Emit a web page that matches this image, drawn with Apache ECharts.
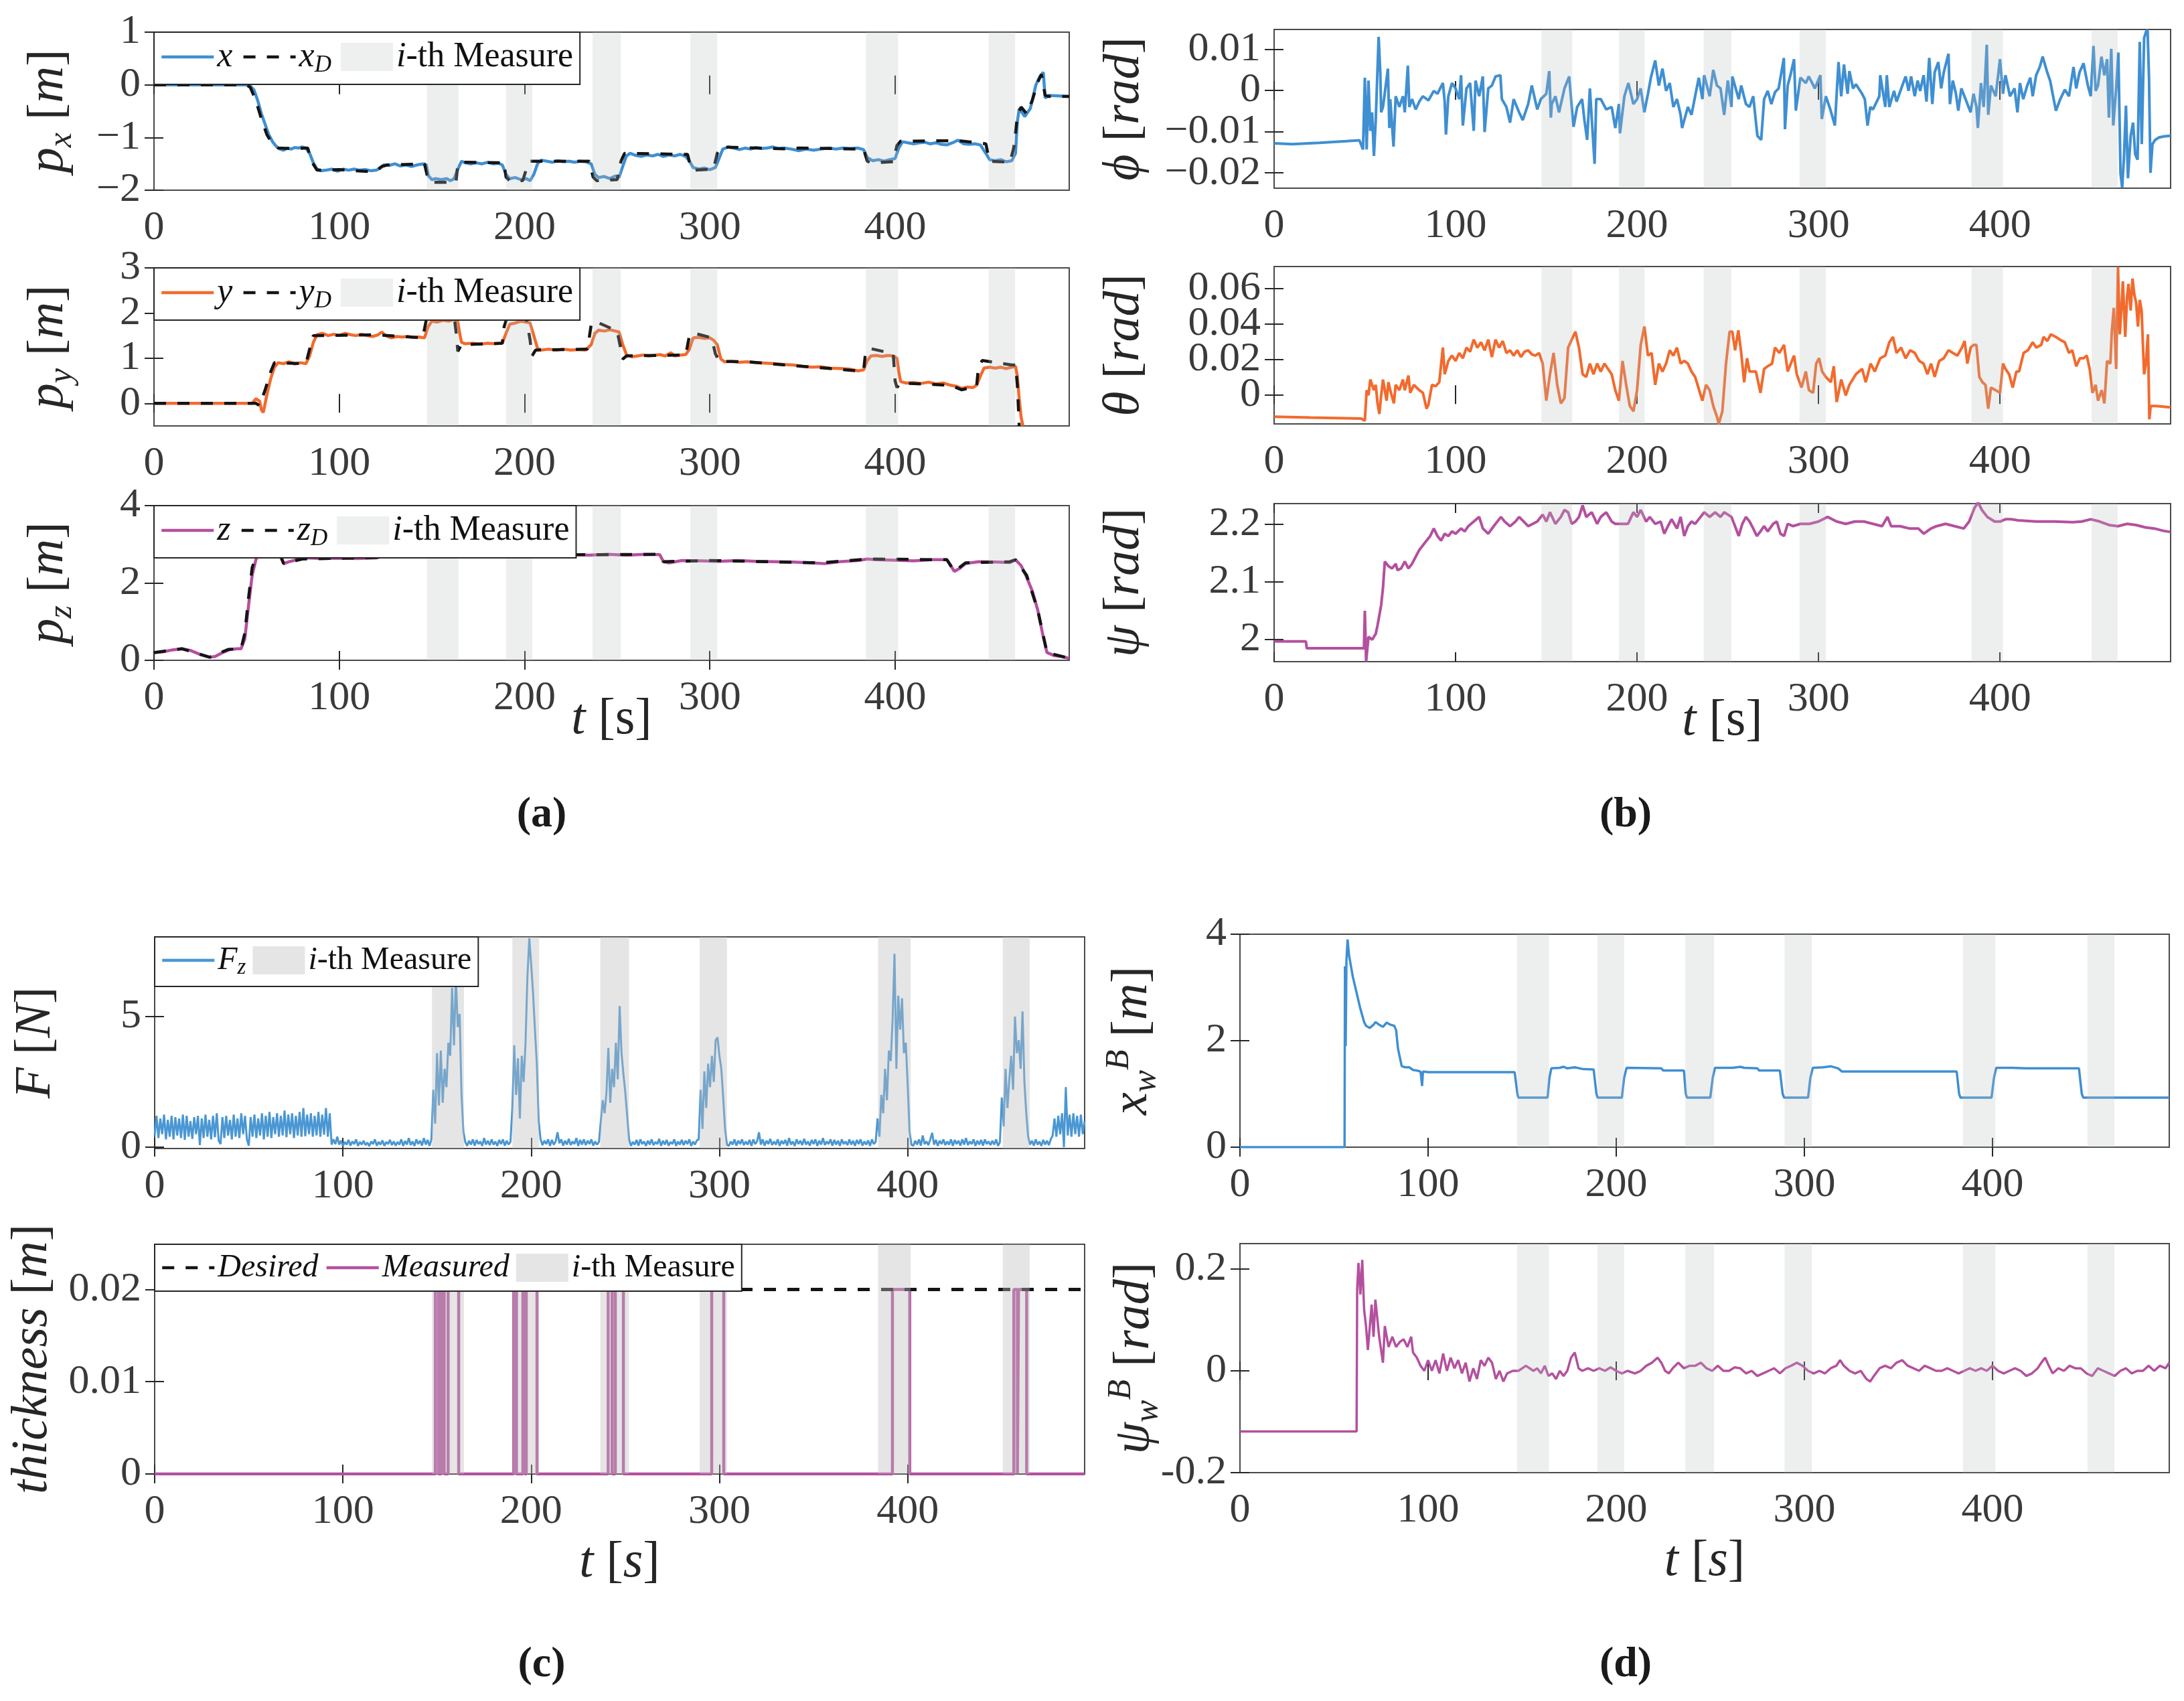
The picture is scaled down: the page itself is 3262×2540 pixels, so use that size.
<!DOCTYPE html>
<html><head><meta charset="utf-8">
<script src="https://cdn.jsdelivr.net/npm/echarts@6/dist/echarts.min.js"></script>
<style>html,body{margin:0;padding:0;background:#fff}#c{width:3262px;height:2540px}</style>
</head><body><div id="c"></div>
<script>
// ---------------- DATA ----------------
const xTicks = [0, 100, 200, 300, 400];
const measureBands = [[147.3,164.3],[190,204.2],[236.7,252],[289.5,304],[384.3,401.6],[450.5,464.8]];

const pxMeas = [[0,0],[20,0],[40,0],[50,0],[52,-0.02],[54,-0.1],[56,-0.3],[58,-0.55],[60,-0.75],[62,-0.95],[64,-1.08],[66,-1.17],[68,-1.22],[70,-1.24],[72,-1.2],[74,-1.22],[76,-1.19],[78,-1.2],[80,-1.18],[82,-1.2],[84,-1.3],[86,-1.48],[88,-1.6],[90,-1.63],[93,-1.62],[96,-1.6],[99,-1.64],[102,-1.6],[105,-1.62],[108,-1.6],[111,-1.62],[114,-1.61],[117,-1.63],[120,-1.62],[122,-1.58],[124,-1.52],[127,-1.53],[130,-1.5],[133,-1.54],[136,-1.52],[139,-1.55],[142,-1.52],[145,-1.5],[147,-1.52],[148,-1.72],[150,-1.8],[152,-1.78],[155,-1.8],[158,-1.78],[160,-1.82],[162,-1.78],[164,-1.6],[166,-1.45],[168,-1.48],[171,-1.5],[174,-1.48],[177,-1.5],[180,-1.47],[183,-1.5],[186,-1.49],[188,-1.52],[190,-1.7],[192,-1.78],[195,-1.76],[198,-1.8],[201,-1.78],[203,-1.82],[205,-1.7],[207,-1.5],[209,-1.43],[212,-1.45],[215,-1.47],[218,-1.44],[221,-1.46],[224,-1.45],[227,-1.47],[230,-1.45],[233,-1.46],[236,-1.5],[238,-1.7],[240,-1.76],[243,-1.74],[246,-1.78],[249,-1.73],[251,-1.76],[253,-1.55],[255,-1.35],[257,-1.3],[260,-1.34],[263,-1.36],[266,-1.33],[269,-1.35],[272,-1.32],[275,-1.36],[278,-1.33],[281,-1.35],[284,-1.32],[287,-1.36],[289,-1.45],[291,-1.57],[294,-1.6],[297,-1.58],[300,-1.61],[303,-1.57],[305,-1.4],[307,-1.22],[310,-1.18],[313,-1.2],[316,-1.23],[319,-1.2],[322,-1.22],[325,-1.19],[328,-1.21],[331,-1.2],[334,-1.18],[337,-1.21],[340,-1.2],[344,-1.22],[348,-1.25],[352,-1.22],[356,-1.24],[360,-1.22],[364,-1.2],[368,-1.22],[372,-1.2],[376,-1.21],[380,-1.2],[383,-1.23],[385,-1.38],[388,-1.44],[391,-1.42],[394,-1.45],[397,-1.42],[400,-1.4],[402,-1.2],[404,-1.08],[407,-1.1],[410,-1.12],[413,-1.1],[416,-1.09],[419,-1.12],[422,-1.1],[425,-1.13],[428,-1.14],[431,-1.1],[434,-1.05],[437,-1.12],[440,-1.13],[443,-1.12],[446,-1.14],[449,-1.3],[451,-1.42],[454,-1.44],[457,-1.42],[460,-1.46],[463,-1.44],[465,-1.3],[466,-0.7],[467,-0.45],[470,-0.6],[473,-0.45],[476,0.0],[478,0.15],[480,0.24],[481,-0.25],[483,-0.2],[494,-0.22]];
const pxDes = [[0,0],[50,0],[52,-0.05],[55,-0.3],[58,-0.65],[61,-0.95],[64,-1.12],[67,-1.2],[75,-1.21],[83,-1.2],[85,-1.45],[88,-1.62],[100,-1.61],[118,-1.65],[120,-1.63],[123,-1.55],[126,-1.52],[146,-1.5],[148,-1.8],[150,-1.85],[163,-1.85],[164,-1.5],[166,-1.47],[189,-1.48],[190,-1.75],[192,-1.82],[199,-1.82],[201,-1.6],[203,-1.45],[235,-1.45],[237,-1.75],[239,-1.82],[250,-1.8],[252,-1.45],[254,-1.3],[288,-1.32],[290,-1.6],[292,-1.62],[302,-1.6],[304,-1.3],[306,-1.18],[344,-1.22],[348,-1.2],[383,-1.22],[385,-1.45],[387,-1.48],[399,-1.46],[401,-1.15],[403,-1.07],[434,-1.06],[449,-1.12],[451,-1.45],[462,-1.47],[464,-1.2],[466,-0.6],[468,-0.42],[471,-0.55],[474,-0.3],[477,0.05],[479,0.2],[481,-0.2],[483,-0.22],[494,-0.22]];

const pyMeas = [[0,0],[50,0],[53,0.0],[55,0.1],[57,0.05],[58,-0.15],[59,-0.2],[61,0.2],[63,0.55],[65,0.8],[67,0.9],[70,0.88],[73,0.92],[76,0.87],[79,0.9],[82,0.88],[84,1.05],[86,1.35],[88,1.52],[91,1.55],[94,1.5],[97,1.53],[100,1.5],[103,1.55],[106,1.52],[109,1.5],[112,1.53],[115,1.5],[118,1.48],[121,1.52],[123,1.58],[125,1.5],[128,1.45],[131,1.48],[134,1.47],[137,1.48],[140,1.46],[143,1.47],[146,1.45],[148,1.7],[150,1.82],[153,1.8],[156,1.84],[159,1.82],[162,1.86],[164,1.8],[165,1.55],[166,1.35],[168,1.32],[172,1.33],[176,1.31],[180,1.33],[184,1.32],[188,1.33],[190,1.55],[192,1.75],[195,1.78],[198,1.82],[201,1.8],[203,1.78],[205,1.5],[207,1.22],[209,1.18],[213,1.2],[217,1.18],[221,1.2],[225,1.18],[229,1.19],[233,1.18],[236,1.3],[238,1.55],[240,1.62],[243,1.6],[246,1.63],[249,1.6],[251,1.58],[253,1.3],[255,1.08],[258,1.03],[261,1.05],[264,1.07],[267,1.05],[270,1.06],[273,1.08],[276,1.05],[279,1.12],[281,1.05],[284,1.07],[287,1.08],[289,1.2],[291,1.45],[294,1.46],[297,1.44],[300,1.45],[302,1.4],[304,1.3],[306,0.98],[308,0.92],[312,0.93],[316,0.91],[320,0.92],[325,0.9],[330,0.89],[335,0.88],[340,0.86],[345,0.85],[350,0.82],[355,0.8],[360,0.81],[365,0.78],[370,0.77],[375,0.76],[380,0.72],[383,0.74],[385,0.95],[387,1.05],[390,1.06],[393,1.04],[396,1.06],[399,1.05],[401,1.0],[402,0.7],[403,0.48],[406,0.45],[410,0.46],[414,0.44],[418,0.47],[422,0.43],[426,0.45],[430,0.4],[433,0.38],[436,0.33],[439,0.36],[442,0.35],[444,0.4],[446,0.6],[448,0.78],[451,0.8],[454,0.78],[457,0.8],[460,0.77],[463,0.8],[465,0.82],[466,0.6],[467,0.1],[468,-0.3],[469,-0.5]];
const pyDes = [[0,0],[55,0],[57,-0.05],[60,0.3],[63,0.7],[65,0.9],[82,0.88],[84,1.2],[86,1.5],[120,1.52],[145,1.45],[147,1.85],[149,1.95],[162,1.92],[163,1.6],[164,1.15],[166,1.3],[188,1.33],[189,1.7],[191,1.95],[201,1.88],[203,1.4],[204,1.05],[206,1.18],[234,1.2],[236,1.75],[238,1.82],[250,1.6],[252,1.2],[253,0.98],[255,1.05],[287,1.07],[289,1.5],[291,1.56],[301,1.45],[303,1.1],[305,0.93],[320,0.92],[350,0.82],[380,0.72],[383,0.72],[384,1.1],[386,1.22],[399,1.1],[400,0.5],[401,0.35],[403,0.45],[430,0.4],[436,0.3],[444,0.38],[445,0.8],[447,0.95],[463,0.85],[465,0.85],[466,0.4],[467,-0.5]];

const pzMeas = [[0,0.2],[5,0.22],[10,0.27],[15,0.3],[20,0.25],[25,0.15],[30,0.08],[33,0.1],[37,0.2],[41,0.28],[45,0.3],[47,0.3],[49,0.55],[51,1.4],[53,2.2],[55,2.6],[57,2.78],[61,2.82],[64,2.85],[67,2.83],[69,2.6],[70,2.5],[73,2.55],[77,2.6],[82,2.65],[90,2.63],[100,2.64],[110,2.63],[120,2.65],[123,2.68],[127,2.85],[130,2.83],[140,2.8],[150,2.75],[160,2.76],[170,2.77],[180,2.76],[190,2.72],[195,2.7],[205,2.71],[215,2.73],[225,2.74],[235,2.72],[245,2.74],[255,2.72],[265,2.74],[273,2.73],[275,2.55],[278,2.52],[285,2.58],[295,2.57],[305,2.56],[315,2.58],[325,2.56],[335,2.55],[345,2.54],[355,2.52],[362,2.5],[370,2.55],[380,2.58],[385,2.62],[390,2.6],[400,2.59],[410,2.57],[420,2.6],[428,2.6],[430,2.45],[432,2.3],[435,2.38],[438,2.5],[445,2.55],[455,2.54],[462,2.53],[465,2.6],[468,2.45],[471,2.15],[474,1.8],[477,1.3],[480,0.6],[482,0.2],[486,0.12],[490,0.1],[494,0.05]];
const pzDes = [[0,0.2],[15,0.3],[30,0.08],[40,0.28],[47,0.3],[49,0.7],[51,1.6],[53,2.4],[56,2.8],[64,2.85],[68,2.75],[70,2.5],[80,2.62],[123,2.66],[127,2.85],[150,2.76],[190,2.72],[273,2.74],[275,2.55],[300,2.58],[360,2.52],[385,2.62],[428,2.6],[432,2.3],[438,2.52],[462,2.55],[465,2.6],[471,2.2],[477,1.3],[482,0.2],[494,0.05]];

const phiData = [[0,-0.0128],[10,-0.013],[25,-0.0127],[40,-0.0123],[47,-0.0121],[49,-0.0143],[50,0.0031],[51,-0.0143],[52,0.0024],[53,-0.0098],[54,-0.0053],[55,-0.0159],[56,-0.0072],[57.6,0.013],[58.5,0.0044],[59,-0.0053],[60,-0.004],[62.7,0.0053],[63.5,-0.0091],[64,-0.0021],[65.8,-0.0136],[67,-0.0014],[69,-0.004],[71,-0.0014],[72,-0.0053],[73.7,0.006],[74.5,-0.004],[76,-0.0021],[78,-0.0046],[80,-0.0027],[82,-0.0014],[85,-0.0024],[88,-0.0001],[90,-0.0008],[93,0.0018],[94,-0.0027],[94.7,-0.0107],[96,-0.0014],[98,0.0018],[100,0.0005],[102,-0.0021],[103,0.0037],[104,-0.0085],[106,0.0005],[108,0.0018],[110,-0.0098],[111,0.0024],[113,-0.0014],[115,0.0034],[116,-0.0101],[118,0.0005],[120,0.0012],[122,0.0034],[124.7,0.0037],[125.5,-0.0021],[128,-0.004],[130,-0.0078],[132,-0.0021],[135,-0.0053],[137,-0.0072],[140,-0.0033],[142,0.0012],[145,-0.0046],[147,-0.0021],[150,-0.0008],[151.6,0.0047],[152.5,-0.0066],[153,-0.0033],[155,-0.0014],[157,-0.0053],[160,0.0005],[162.6,0.0034],[164,-0.004],[165,-0.0088],[167,-0.004],[169.7,-0.0021],[171,-0.0072],[172.5,-0.012],[174,0.0005],[176.6,-0.0178],[177.5,-0.0021],[180,-0.0021],[183,-0.0046],[186,-0.004],[188,-0.0091],[190,-0.0033],[190.6,-0.0104],[193,-0.0014],[195.2,0.0018],[198,-0.0033],[200,-0.0021],[202,0.0005],[204,-0.0053],[206,-0.0008],[207.6,0.0031],[210,0.0073],[212,0.0012],[214,0.0053],[216,-0.0001],[218,0.0018],[220,-0.004],[222,-0.0021],[224,-0.0059],[224.8,-0.0091],[228,-0.004],[230,-0.0059],[232,-0.0014],[234,0.0031],[236,-0.0021],[237,0.0037],[240,-0.0014],[242,0.005],[244,0.0012],[246,0.0005],[248,-0.0059],[250,0.0024],[252,-0.004],[252.5,0.0034],[256,-0.0021],[257.4,0.0012],[260,-0.0033],[262,-0.004],[264,-0.0014],[266.3,-0.011],[268.4,-0.012],[270,-0.0021],[272,-0.0001],[274,-0.0033],[276,-0.0004],[278,0.0005],[280.9,0.0079],[281.5,-0.0094],[283,0.0012],[284.5,0.0037],[286.5,0.0076],[287.5,-0.0049],[290,0.0031],[293,0.0018],[294.6,0.0034],[298,0.0005],[301,0.0037],[301.8,-0.0069],[304,-0.0014],[306.5,-0.0046],[309,-0.0085],[311,0.0069],[312.5,-0.0014],[314,0.0063],[316,-0.0008],[317,0.0047],[319,0.0005],[320.6,0.0015],[324,-0.0008],[325.5,-0.0021],[327,-0.0085],[328.5,-0.004],[330,-0.0046],[333.5,-0.0014],[334,0.0037],[336.8,-0.004],[337.6,0.0037],[339,-0.004],[341.6,-0.0001],[343,-0.0027],[345.6,0.0005],[348,0.0034],[349.6,-0.0001],[351,0.0034],[353,-0.0014],[354.6,0.0024],[356,-0.0001],[357.9,0.0037],[359.5,-0.0027],[361,0.0079],[362.7,-0.0033],[364,0.0044],[366,0.0069],[367.6,0.0005],[369,0.0044],[371.6,0.0089],[372.4,-0.0033],[374,0.0024],[375.7,-0.0008],[377,-0.0049],[378.7,0.0005],[381,-0.0021],[383.8,-0.0053],[385.4,-0.0008],[387,-0.004],[387.8,-0.0091],[389.5,0.0018],[391,-0.004],[392.7,0.0111],[393.5,-0.0059],[395,0.0012],[397.6,-0.0014],[400,0.0076],[401.6,-0.0008],[403,0.0037],[405.5,-0.0014],[408,0.0005],[409.6,-0.0053],[411,0.0018],[412.8,-0.0021],[415,0.0012],[416.7,0.0031],[418,-0.0014],[419.9,0.0037],[421.9,0.0057],[423.5,0.0082],[426,0.0044],[427.6,0.0024],[429,-0.0008],[430.8,-0.0049],[433.2,-0.0021],[435.7,0.0002],[438,-0.0014],[440.5,0.0057],[442,0.0005],[443.8,0.0044],[446,0.0066],[448.4,0.0012],[450,-0.0014],[451.5,0.0108],[452.7,-0.0001],[454,0.0012],[455.9,0.0082],[457.5,0.0037],[459,0.0076],[460,-0.0066],[461.3,0.0101],[462.4,-0.0085],[464,0.0005],[465.2,0.0092],[466.4,-0.02],[467.3,-0.0236],[468.3,-0.0162],[469.4,-0.0037],[470.5,-0.0213],[472,-0.011],[473.3,-0.0078],[474.5,-0.0155],[475.8,-0.0168],[477,0.0118],[478.1,-0.013],[479.4,0.0127],[480.5,0.0143],[481.3,0.0147],[482.1,0.0031],[482.9,-0.02],[484,-0.013],[485.5,-0.012],[487.5,-0.0114],[490.8,-0.0111],[494,-0.011]];

const thetaData = [[0,-0.0124],[20,-0.0129],[48,-0.0135],[50,-0.0147],[51,0.0025],[52,-0.0004],[53,0.0085],[55,0.0025],[56,0.0055],[57,-0.0049],[58,-0.0109],[59,-0.0004],[60,0.0085],[62,-0.0034],[63,0.007],[64,0.0025],[66,-0.0049],[67,0.0055],[69,0.0025],[71,0.0085],[72,0.0025],[74,0.0108],[75,0.001],[77,0.0055],[80,0.0025],[82,0.001],[84,-0.0079],[85,-0.0057],[87,0.0055],[89,0.0048],[91,0.007],[93,0.0265],[94,0.0115],[96,0.019],[98,0.022],[100,0.019],[102,0.0235],[104,0.0205],[106,0.0265],[108,0.0242],[110,0.031],[112,0.0265],[114,0.0295],[116,0.025],[118,0.031],[120,0.0212],[122,0.031],[124,0.0265],[126,0.0302],[128,0.0235],[130,0.025],[132,0.022],[134,0.025],[136,0.0212],[138,0.0242],[140,0.025],[142,0.0227],[144,0.022],[146,0.0235],[148,0.0175],[150,-0.0034],[152,0.0115],[154,0.0235],[156,0.0055],[158,-0.0049],[160,-0.0019],[162,0.0265],[164,0.031],[166,0.0355],[168,0.0265],[170,0.0115],[172,0.01],[174,0.0175],[176,0.0115],[178,0.0175],[180,0.013],[182,0.0175],[184,0.0145],[186,0.0115],[188,0.0025],[190,-0.0034],[192,0.019],[194,0.0055],[196,-0.0064],[198,-0.0094],[200,0.0025],[202,0.028],[204,0.0384],[206,0.022],[208,0.0235],[210,0.0055],[212,0.0175],[214,0.013],[216,0.0175],[218,0.025],[220,0.022],[222,0.0265],[224,0.0175],[226,0.019],[228,0.0175],[230,0.013],[232,0.01],[234,0.0033],[236,-0.0034],[238,0.0055],[240,0.0025],[242,-0.0064],[244,-0.0124],[245,-0.0165],[247,-0.0094],[249,0.0175],[251,0.0355],[252.5,0.0355],[254,0.025],[255.8,0.0362],[257.4,0.0235],[259,0.007],[260.6,0.0205],[262,0.013],[265.5,0.013],[268,0.001],[270,0.0145],[272,0.016],[274.4,0.0175],[276,0.0265],[278.4,0.0235],[281,0.028],[283,0.013],[286.5,0.022],[288,0.0115],[290.6,0.004],[293,0.013],[294.7,0.0025],[297,0.001],[298.7,0.0175],[300.3,0.0205],[302,0.013],[304,0.01],[306.8,0.007],[308.4,0.016],[310,-0.0042],[312.5,0.0085],[315,-0.0004],[317,0.0055],[320.6,0.0115],[324,0.0145],[326,0.007],[328.7,0.0175],[331,0.013],[334,0.0205],[336.8,0.022],[339,0.0295],[341,0.0325],[343,0.0235],[345.5,0.0265],[348,0.0205],[350.5,0.025],[353,0.0235],[355.5,0.019],[357.9,0.0175],[360,0.0115],[362,0.0175],[364,0.01],[366.5,0.019],[369,0.0205],[371.6,0.025],[374,0.0235],[376.5,0.022],[379,0.0265],[380.5,0.0302],[382,0.0175],[383.8,0.0265],[385.4,0.028],[387,0.028],[388.6,0.01],[390.3,0.007],[392,0.0055],[393.5,-0.0079],[395,0.004],[397.6,0.0025],[400,0.001],[401.6,0.0175],[403,0.0145],[405,0.0115],[407,0.004],[409,0.013],[410.5,0.013],[413,0.0235],[415.4,0.025],[418,0.0295],[420,0.0265],[422.7,0.028],[424,0.0325],[426,0.0302],[428,0.034],[430.8,0.0325],[433,0.031],[435.7,0.0295],[438,0.0235],[439.8,0.025],[442,0.016],[444,0.0205],[446,0.0205],[447.8,0.022],[449.4,0.0145],[451,0.001],[452.7,0.0055],[454,-0.0034],[456,0.0025],[457.5,-0.0049],[459,0.019],[460.8,0.0175],[461.6,0.0355],[462.7,0.0489],[464,0.0145],[465,0.072],[466,0.034],[467,0.0504],[467.7,0.0639],[469,0.0325],[470,0.0549],[470.8,0.0624],[472,0.0474],[473,0.0654],[474,0.0564],[475,0.0519],[476,0.0384],[477,0.0534],[478,0.0474],[479.4,0.0115],[480.4,0.0175],[481.5,0.034],[482.3,-0.0139],[483,-0.0064],[486,-0.0064],[489,-0.0067],[494,-0.0072]];

const psiData = [[0,1.997],[17.5,1.997],[18,1.985],[49.5,1.985],[50,2.05],[50.7,1.962],[52,2.005],[54,2.0],[56,2.01],[57,2.025],[59,2.06],[60,2.09],[61,2.135],[63,2.127],[65,2.123],[67,2.131],[68,2.12],[70,2.123],[72,2.135],[74,2.123],[76,2.131],[78,2.143],[80,2.155],[82,2.163],[84,2.171],[86,2.179],[88,2.192],[90,2.179],[92,2.171],[94,2.183],[96,2.179],[98,2.187],[100,2.183],[103,2.192],[105,2.187],[107,2.196],[110,2.204],[113,2.212],[115,2.192],[118,2.183],[121,2.196],[125,2.212],[127,2.204],[130,2.196],[133,2.204],[135,2.212],[140,2.196],[145,2.204],[148,2.216],[150,2.204],[152,2.22],[155,2.2],[158,2.212],[160,2.224],[162,2.22],[164,2.2],[166,2.204],[168,2.212],[170,2.232],[172,2.212],[175,2.22],[178,2.2],[180,2.212],[183,2.22],[186,2.204],[188,2.2],[190,2.2],[195,2.2],[198,2.22],[200,2.212],[202,2.224],[205,2.204],[207,2.212],[210,2.2],[213,2.204],[215,2.183],[217,2.196],[219,2.208],[222,2.192],[224,2.212],[226,2.179],[228,2.196],[230,2.204],[232,2.2],[235,2.212],[237,2.22],[240,2.212],[243,2.22],[246,2.212],[248,2.22],[250,2.216],[252,2.212],[254,2.196],[256,2.179],[258,2.2],[260,2.212],[262,2.204],[264,2.192],[266,2.179],[268,2.187],[270,2.196],[272,2.187],[275,2.2],[277,2.204],[279,2.183],[281,2.179],[283,2.2],[286,2.196],[290,2.2],[295,2.2],[300,2.204],[305,2.212],[310,2.204],[315,2.2],[320,2.204],[325,2.204],[330,2.2],[335,2.196],[338,2.212],[340,2.196],[345,2.196],[350,2.192],[355,2.192],[358,2.183],[362,2.192],[365,2.196],[370,2.2],[375,2.196],[380,2.192],[383,2.204],[386,2.228],[388,2.237],[390,2.224],[393,2.212],[397,2.204],[400,2.204],[403,2.208],[406,2.208],[410,2.206],[420,2.204],[430,2.204],[440,2.203],[445,2.204],[450,2.208],[455,2.204],[460,2.198],[465,2.196],[470,2.2],[475,2.198],[480,2.194],[485,2.192],[490,2.188],[494,2.186]];

// F_z sampled every 1 s from t = 0 to 494
const fzStep = 1;
const fzValues = [
0.45,1.2,0.35,1.1,0.5,1.25,0.3,1.05,0.4,1.2,
0.3,1.15,0.45,1.1,0.35,1.25,0.28,1.2,0.4,1.0,
0.32,1.15,0.5,1.2,0.08,1.1,0.35,1.25,0.4,1.05,
0.3,1.2,0.38,1.3,0.25,0.12,1.15,0.35,1.2,0.45,
1.05,0.3,1.25,0.4,1.1,0.35,1.3,0.5,1.2,0.3,
0.06,1.15,0.4,1.25,0.35,1.1,0.45,1.3,0.3,1.2,
0.4,1.35,0.35,1.15,0.5,1.3,0.4,1.2,0.45,1.4,
0.38,1.25,0.5,1.3,0.35,1.2,0.45,1.35,0.4,1.5,
0.42,1.25,0.5,1.3,0.4,1.2,0.45,1.35,0.4,1.25,
0.48,1.5,0.4,1.3,0.1,0.3,0.12,0.4,0.1,0.25,
0.05,0.2,0.1,0.28,0.06,0.22,0.12,0.3,0.05,0.2,
0.1,0.25,0.08,0.18,0.04,0.22,0.12,0.3,0.06,0.2,
0.1,0.26,0.05,0.2,0.12,0.28,0.08,0.22,0.06,0.2,
0.1,0.3,0.05,0.24,0.1,0.35,0.08,0.22,0.05,0.3,
0.12,0.25,0.06,0.35,0.1,0.28,0.05,0.3,2.2,0.9,
3.6,1.6,3.7,1.7,3.0,2.3,4.0,3.5,6.1,3.9,
6.5,4.6,5.1,2.0,0.6,0.2,0.05,0.25,0.1,0.3,
0.06,0.28,0.12,0.22,0.05,0.35,0.1,0.25,0.08,0.3,
0.1,0.22,0.05,0.28,0.12,0.3,0.06,0.25,0.1,0.2,
1.5,3.9,2.0,3.4,1.1,3.5,2.5,4.0,6.5,8.0,
7.0,5.9,4.5,3.2,1.0,0.3,0.08,0.25,0.12,0.3,
0.05,0.28,0.1,0.22,0.57,0.15,0.3,0.06,0.25,0.1,
0.32,0.08,0.22,0.12,0.35,0.05,0.28,0.1,0.3,0.08,
0.25,0.12,0.3,0.06,0.22,0.1,0.2,1.0,1.8,1.3,
2.1,3.8,1.7,3.0,2.3,4.0,2.6,5.4,3.6,2.8,
2.1,1.2,0.3,0.05,0.2,0.1,0.28,0.06,0.3,0.12,
0.22,0.05,0.25,0.1,0.3,0.08,0.2,0.12,0.32,0.05,
0.25,0.1,0.28,0.06,0.2,0.12,0.3,0.05,0.22,0.1,
0.28,0.08,0.25,0.12,0.3,0.05,0.22,0.1,0.26,0.3,
2.2,0.7,2.9,1.5,3.2,2.3,3.5,2.5,4.1,4.2,
3.5,3.0,1.9,0.7,0.1,0.05,0.22,0.1,0.3,0.06,
0.25,0.12,0.3,0.08,0.22,0.1,0.28,0.05,0.3,0.12,
0.22,0.57,0.1,0.3,0.06,0.25,0.12,0.32,0.08,0.22,
0.1,0.3,0.05,0.25,0.12,0.28,0.06,0.35,0.1,0.22,
0.05,0.3,0.12,0.25,0.08,0.32,0.1,0.22,0.06,0.28,
0.12,0.3,0.05,0.25,0.1,0.35,0.08,0.22,0.12,0.3,
0.06,0.28,0.1,0.25,0.05,0.3,0.12,0.22,0.08,0.3,
0.1,0.25,0.05,0.28,0.12,0.3,0.06,0.22,0.1,0.26,
0.05,0.3,0.12,0.2,1.1,0.4,2.0,1.3,3.0,1.8,
3.7,3.3,4.9,7.4,3.0,5.8,4.5,5.7,3.6,4.0,
2.4,0.6,0.1,0.05,0.25,0.1,0.3,0.06,0.45,0.12,
0.22,0.08,0.3,0.55,0.1,0.28,0.05,0.25,0.12,0.3,
0.08,0.22,0.1,0.3,0.05,0.28,0.12,0.25,0.06,0.3,
0.1,0.35,0.08,0.22,0.12,0.3,0.05,0.25,0.1,0.28,
0.06,0.3,0.12,0.22,0.08,0.25,0.1,0.3,0.05,0.2,
1.9,0.8,3.0,1.5,2.6,3.5,2.2,5.0,3.6,4.1,
3.0,5.2,2.5,1.3,0.4,0.1,0.25,0.06,0.3,0.1,
0.22,0.05,0.28,0.1,0.25,0.08,0.3,0.45,1.1,0.4,
1.2,0.5,1.3,0.0,2.3,0.45,1.25,0.4,1.3,0.5,
1.2,0.4,1.25,0.5,1.0];

const thicknessDesired = 0.02;
const thicknessPulses = [[149.1,150.8],[152.3,153.8],[155.9,161.5],[190.7,192.2],[195.6,196.6],[197.4,203.1],[240.9,243.0],[244.7,249.0],[295.9,302.3],[391.9,401.1],[456.4,458.3],[458.9,463.2]];

const xwData = [[0,0],[55.6,0],[55.8,3.4],[56.2,1.9],[56.6,3.5],[57.2,3.9],[58,3.6],[60,3.2],[62,2.9],[64,2.6],[66,2.35],[67,2.28],[69,2.24],[71,2.3],[72,2.35],[74,2.3],[76,2.26],[78,2.34],[80,2.3],[82,2.28],[83,2.2],[84,1.85],[86,1.52],[88,1.5],[90,1.5],[92,1.45],[94,1.44],[96,1.42],[96.8,1.15],[97.3,1.42],[100,1.41],[146,1.41],[147.5,1.0],[148,0.93],[163.5,0.93],[164.5,1.3],[165.5,1.48],[170,1.49],[172,1.51],[174,1.48],[178,1.5],[182,1.47],[188,1.46],[189.5,1.0],[190.2,0.93],[203,0.93],[204.2,1.3],[205.5,1.49],[224,1.48],[225,1.44],[236,1.44],[237,1.0],[237.7,0.93],[250,0.93],[251.3,1.3],[252.5,1.49],[262,1.49],[266,1.51],[268,1.49],[275,1.48],[276,1.44],[287,1.44],[288.5,1.0],[289.3,0.93],[302,0.93],[303.2,1.3],[304.5,1.49],[310,1.5],[314,1.52],[318,1.48],[320,1.42],[381,1.42],[382.3,1.0],[383,0.93],[399.5,0.93],[400.8,1.3],[402,1.49],[410,1.49],[418,1.48],[446,1.48],[447.5,1.0],[448.3,0.93],[494,0.93]];

const psiwData = [[0,-0.119],[62,-0.119],[62.3,0.16],[63,0.212],[64,0.15],[65,0.218],[66,0.12],[67,0.088],[68,0.041],[70,0.13],[71,0.067],[72,0.14],[74,0.067],[76,0.016],[77,0.088],[79,0.047],[81,0.067],[83,0.047],[85,0.057],[87,0.062],[89,0.047],[91,0.067],[92,0.036],[94,0.026],[96,0.01],[98,0.0],[100,0.021],[102,0.0],[104,0.021],[106,-0.005],[108,0.034],[110,0.0],[112,0.026],[114,0.005],[116,0.021],[118,-0.005],[120,0.016],[122,-0.021],[124,0.005],[126,-0.016],[128,0.021],[130,0.01],[132,0.026],[134,0.016],[136,-0.016],[138,0.0],[140,-0.021],[142,-0.005],[145,0.0],[148,0.0],[150,0.005],[152,0.01],[154,0.005],[156,0.0],[158,0.005],[160,-0.005],[162,0.01],[164,-0.01],[166,-0.005],[168,-0.016],[170,0.0],[172,-0.01],[174,0.0],[176,0.026],[178,0.036],[180,0.005],[182,0.0],[185,0.005],[188,0.0],[191,0.005],[194,0.0],[197,0.007],[200,0.0],[203,-0.005],[206,0.0],[210,-0.005],[213,0.0],[216,0.01],[219,0.016],[222,0.026],[224,0.016],[226,0.0],[228,-0.005],[230,0.005],[233,0.016],[236,0.005],[239,0.01],[242,0.01],[245,0.016],[248,0.005],[251,0.0],[254,0.01],[257,0.0],[260,0.0],[263,0.007],[266,0.005],[269,-0.005],[272,0.0],[275,-0.01],[278,-0.005],[281,0.0],[284,0.005],[287,-0.005],[290,0.005],[293,0.01],[296,0.016],[299,0.01],[302,0.0],[305,-0.005],[308,0.0],[311,-0.005],[314,0.005],[317,0.01],[319,0.021],[321,0.01],[324,0.0],[327,-0.005],[330,0.0],[333,-0.016],[335,-0.021],[337,-0.01],[340,0.005],[343,0.01],[346,0.005],[349,0.016],[352,0.021],[355,0.01],[358,0.005],[361,0.0],[364,0.01],[367,0.005],[370,0.0],[373,0.0],[376,0.005],[379,0.0],[382,-0.005],[385,0.0],[388,0.005],[391,0.0],[394,0.005],[397,0.0],[400,0.01],[403,0.0],[406,-0.005],[409,0.0],[412,0.005],[415,0.0],[418,-0.01],[421,-0.005],[424,0.005],[426,0.016],[428,0.026],[430,0.01],[432,-0.005],[435,0.005],[438,0.0],[441,0.01],[444,0.005],[447,0.005],[450,-0.005],[453,-0.01],[456,0.005],[459,0.0],[462,-0.005],[465,-0.01],[468,0.0],[471,0.005],[474,-0.005],[477,0.0],[480,0.0],[483,0.01],[486,0.0],[489,0.01],[492,0.005],[494,0.016]];

// ---------------- BUILD ----------------
const FONT = 'Liberation Serif';
const AX = '#262626';
const TXT = '#3a3a3a';
const C_BLUE = '#3f8fd2', C_ORANGE = '#f26a2d', C_MAG = '#b4509e', C_DASH = '#141414', C_F = '#4a97d3';
const DASH = [18, 17];

const fzData = fzValues.map((v, i) => [i * fzStep, v]);
const thickData = [[0, 0]];
thicknessPulses.forEach(p => { thickData.push([p[0], 0], [p[0], thicknessDesired], [p[1], thicknessDesired], [p[1], 0]); });
thickData.push([494, 0]);
const desiredData = [[0, thicknessDesired], [494, thicknessDesired]];

const nameRich = {
  it: {fontFamily: FONT, fontStyle: 'italic', fontSize: 76, lineHeight: 90, color: AX},
  rm: {fontFamily: FONT, fontSize: 76, lineHeight: 90, color: AX},
  sub: {fontFamily: FONT, fontStyle: 'italic', fontSize: 50, lineHeight: 42, verticalAlign: 'bottom', color: AX},
  sup: {fontFamily: FONT, fontStyle: 'italic', fontSize: 50, lineHeight: 42, verticalAlign: 'top', color: AX}
};

const panels = [
  {left:230, top:48, width:1367, height:236, ymin:-2, ymax:1, yt:[-2,-1,0,1], yname:'{it|p}{sub|x}{rm| [}{it|m}{rm|]}', ygap:112, minus:true},
  {left:230, top:400, width:1367, height:236, ymin:-0.5, ymax:3, yt:[0,1,2,3], yname:'{it|p}{sub|y}{rm| [}{it|m}{rm|]}', ygap:112, minus:true},
  {left:230, top:755, width:1367, height:231, ymin:0, ymax:4, yt:[0,2,4], yname:'{it|p}{sub|z}{rm| [}{it|m}{rm|]}', ygap:112, minus:true, xname:'{it|t}{rm| [s]}', xgap:44},
  {left:1903, top:44, width:1339, height:237, ymin:-0.0237, ymax:0.0148, yt:[-0.02,-0.01,0,0.01], yname:'{it|ϕ}{rm| [}{it|rad}{rm|]}', ygap:178, minus:true},
  {left:1903, top:398, width:1339, height:235, ymin:-0.0165, ymax:0.0722, yt:[0,0.02,0.04,0.06], yname:'{it|θ}{rm| [}{it|rad}{rm|]}', ygap:178, minus:true},
  {left:1903, top:752, width:1339, height:236, ymin:1.962, ymax:2.235, yt:[2,2.1,2.2], yname:'{it|ψ}{rm| [}{it|rad}{rm|]}', ygap:178, minus:true, xname:'{it|t}{rm| [s]}', xgap:44},
  {left:231, top:1399, width:1389, height:316, ymin:-0.05, ymax:8.05, yt:[0,5], yname:'{it|F}{rm| [}{it|N}{rm|]}', ygap:132, minus:true},
  {left:231, top:1858, width:1389, height:343, ymin:0, ymax:0.0249, yt:[0,0.01,0.02], yname:'{it|thickness}{rm| [}{it|m}{rm|]}', ygap:137, minus:true, xname:'{it|t}{rm| [}{it|s}{rm|]}', xgap:88},
  {left:1852, top:1395, width:1388, height:318, ymin:0, ymax:4, yt:[0,2,4], yname:'{it|x}{sub|w}{sup|B}{rm| [}{it|m}{rm|]}', ygap:115, minus:false},
  {left:1852, top:1857, width:1388, height:342, ymin:-0.2, ymax:0.25, yt:[-0.2,0,0.2], yname:'{it|ψ}{sub|w}{sup|B}{rm| [}{it|rad}{rm|]}', ygap:112, minus:false, xname:'{it|t}{rm| [}{it|s}{rm|]}', xgap:88}
];

const grid = [], xAxis = [], yAxis = [], extraY = [];
const tickStyle = {show: true, inside: true, length: 14, lineStyle: {color: AX, width: 2}};
function yLabelCfg(p, values) {
  return {customValues: values, margin: 20, fontFamily: FONT, fontSize: 62, color: TXT,
    showMinLabel: true, showMaxLabel: true, hideOverlap: false,
    formatter: v => { const s = String(+v.toFixed(4)); return p.minus ? s.replace('-', '\u2212') : s; }};
}
panels.forEach((p, i) => {
  grid.push({left: p.left, top: p.top, width: p.width, height: p.height, show: true, borderColor: '#4a4a4a', borderWidth: 2, backgroundColor: '#fff', containLabel: false});
  xAxis.push({type: 'value', gridIndex: i, min: 0, max: 494, position: 'bottom',
    axisLine: {show: false}, splitLine: {show: false},
    axisTick: Object.assign({customValues: xTicks}, tickStyle),
    axisLabel: {customValues: xTicks, margin: 32, fontFamily: FONT, fontSize: 62, lineHeight: 50, color: TXT,
      showMinLabel: true, showMaxLabel: true, hideOverlap: false, formatter: v => String(v)},
    name: p.xname || '', nameLocation: 'middle', nameGap: p.xgap || 0, nameMoveOverlap: false,
    nameTextStyle: {rich: nameRich, fontFamily: FONT, fontSize: 76, color: AX}});
  xAxis.push({type: 'value', gridIndex: i, min: 0, max: 494, position: 'top',
    axisLine: {show: false}, splitLine: {show: false}, axisLabel: {show: false},
    axisTick: Object.assign({customValues: xTicks}, tickStyle)});
  // labels are split over two coincident left axes so no label gets auto-hidden
  const evenVals = p.yt.filter((v, k) => k % 2 === 0);
  const oddVals = p.yt.filter((v, k) => k % 2 === 1);
  yAxis.push({type: 'value', gridIndex: i, min: p.ymin, max: p.ymax, position: 'left',
    axisLine: {show: false}, splitLine: {show: false},
    axisTick: Object.assign({customValues: p.yt}, tickStyle),
    axisLabel: yLabelCfg(p, evenVals),
    name: p.yname, nameLocation: 'middle', nameGap: p.ygap, nameRotate: 90, nameMoveOverlap: false,
    nameTextStyle: {rich: nameRich, fontFamily: FONT, fontSize: 76, color: AX}});
  yAxis.push({type: 'value', gridIndex: i, min: p.ymin, max: p.ymax, position: 'right',
    axisLine: {show: false}, splitLine: {show: false}, axisLabel: {show: false},
    axisTick: Object.assign({customValues: p.yt}, tickStyle)});
  if (oddVals.length) {
    extraY.push({type: 'value', gridIndex: i, min: p.ymin, max: p.ymax, position: 'left', offset: 0,
      axisLine: {show: false}, splitLine: {show: false}, axisTick: {show: false},
      axisLabel: yLabelCfg(p, oddVals), name: ''});
  }
});
extraY.forEach(a => yAxis.push(a));

function line(name, data, gi, color, width, dashed, z) {
  return {type: 'line', name: name, data: data, xAxisIndex: 2 * gi, yAxisIndex: 2 * gi,
    symbol: 'none', showSymbol: false, silent: true, animation: false, z: z || 2,
    clip: true,
    lineStyle: {color: color, width: width, type: dashed ? DASH : 'solid'},
    itemStyle: {color: color}};
}
function bands(gi, fill, op, legendColor) {
  return {type: 'custom', name: 'i-th Measure', data: measureBands, xAxisIndex: 2 * gi, yAxisIndex: 2 * gi,
    silent: true, animation: false, z: 3, encode: {x: [0, 1]},
    itemStyle: {color: legendColor},
    renderItem: (params, api) => {
      const cs = params.coordSys;
      const a = api.coord([api.value(0), 0])[0];
      const b = api.coord([api.value(1), 0])[0];
      return {type: 'rect', shape: {x: a, y: cs.y, width: b - a, height: cs.height}, style: {fill: fill, opacity: op}};
    }};
}
const BAND_FILL = '#b8bcba', BAND_OP = 0.25, BAND_LEG = '#eef0ef';
const BAND_FILL_C = '#bebebe', BAND_OP_C = 0.4, BAND_LEG_C = '#e5e5e5';

const series = [
  line('x', pxMeas, 0, C_BLUE, 4.5), line('xD', pxDes, 0, C_DASH, 4.5, true, 2.5), bands(0, BAND_FILL, BAND_OP, BAND_LEG),
  line('y', pyMeas, 1, C_ORANGE, 4.5), line('yD', pyDes, 1, C_DASH, 4.5, true, 2.5), bands(1, BAND_FILL, BAND_OP, BAND_LEG),
  line('z', pzMeas, 2, C_MAG, 4.5), line('zD', pzDes, 2, C_DASH, 4.5, true, 2.5), bands(2, BAND_FILL, BAND_OP, BAND_LEG),
  line('phi', phiData, 3, C_BLUE, 4), bands(3, BAND_FILL, BAND_OP, BAND_LEG),
  line('theta', thetaData, 4, C_ORANGE, 4), bands(4, BAND_FILL, BAND_OP, BAND_LEG),
  line('psi', psiData, 5, C_MAG, 4), bands(5, BAND_FILL, BAND_OP, BAND_LEG),
  line('Fz', fzData, 6, C_F, 3), bands(6, BAND_FILL_C, BAND_OP_C, BAND_LEG_C),
  line('Measured', thickData, 7, C_MAG, 4.5), line('Desired', desiredData, 7, C_DASH, 5, true, 2.5), bands(7, BAND_FILL_C, BAND_OP_C, BAND_LEG_C),
  line('xw', xwData, 8, C_BLUE, 3.5), bands(8, BAND_FILL, BAND_OP, BAND_LEG),
  line('psiw', psiwData, 9, C_MAG, 3.5), bands(9, BAND_FILL, BAND_OP, BAND_LEG)
];

const legendLabel = {
  'x': '{it|x}', 'xD': '{it|x}{sub|D}', 'y': '{it|y}', 'yD': '{it|y}{sub|D}', 'z': '{it|z}', 'zD': '{it|z}{sub|D}',
  'Fz': '{it|F}{sub|z}', 'Desired': '{it|Desired}', 'Measured': '{it|Measured}', 'i-th Measure': '{it|i}{rm|-th Measure}'
};
const legendLine = {
  'x': [C_BLUE, false], 'xD': [C_DASH, true], 'y': [C_ORANGE, false], 'yD': [C_DASH, true], 'z': [C_MAG, false], 'zD': [C_DASH, true],
  'Fz': [C_F, false], 'Desired': [C_DASH, true], 'Measured': [C_MAG, false]
};
function legend(names, left, top, fs, gap, patch) {
  return {left: left, top: top, orient: 'horizontal', itemWidth: 78, itemHeight: 42, itemGap: gap,
    padding: [11, 10, 11, 9], backgroundColor: '#fff', borderColor: '#262626', borderWidth: 2, borderRadius: 0,
    selectedMode: false, z: 6,
    data: names.map(n => {
      if (n === 'i-th Measure') return {name: n, icon: 'rect', itemStyle: {color: patch, borderWidth: 0}};
      const st = legendLine[n];
      return {name: n, icon: 'line', itemStyle: {color: st[0], borderColor: st[0], borderWidth: 4.5, borderType: st[1] ? DASH : 'solid'}};
    }),
    formatter: n => legendLabel[n],
    textStyle: {fontFamily: FONT, fontSize: fs, color: '#111',
      rich: {
        it: {fontFamily: FONT, fontStyle: 'italic', fontSize: fs, lineHeight: fs + 8, color: '#111'},
        rm: {fontFamily: FONT, fontSize: fs, lineHeight: fs + 8, color: '#111'},
        sub: {fontFamily: FONT, fontStyle: 'italic', fontSize: Math.round(fs * 0.68), lineHeight: Math.round(fs * 0.6), verticalAlign: 'bottom', color: '#111'}
      }}};
}

const option = {
  backgroundColor: '#fff',
  animation: false,
  grid: grid, xAxis: xAxis, yAxis: yAxis, series: series,
  legend: [
    legend(['x', 'xD', 'i-th Measure'], 230, 48, 52, 14, BAND_LEG),
    legend(['y', 'yD', 'i-th Measure'], 230, 400, 52, 14, BAND_LEG),
    legend(['z', 'zD', 'i-th Measure'], 230, 755, 52, 14, BAND_LEG),
    legend(['Fz', 'i-th Measure'], 231, 1399, 48, 10, BAND_LEG_C),
    legend(['Desired', 'Measured', 'i-th Measure'], 231, 1858, 48, 10, BAND_LEG_C)
  ],
  graphic: [
    {type: 'text', x: 809, y: 1217, style: {text: '(a)', fontFamily: FONT, fontWeight: 'bold', fontSize: 64, fill: '#1a1a1a', align: 'center', verticalAlign: 'middle'}},
    {type: 'text', x: 2428, y: 1217, style: {text: '(b)', fontFamily: FONT, fontWeight: 'bold', fontSize: 64, fill: '#1a1a1a', align: 'center', verticalAlign: 'middle'}},
    {type: 'text', x: 809, y: 2486, style: {text: '(c)', fontFamily: FONT, fontWeight: 'bold', fontSize: 64, fill: '#1a1a1a', align: 'center', verticalAlign: 'middle'}},
    {type: 'text', x: 2428, y: 2486, style: {text: '(d)', fontFamily: FONT, fontWeight: 'bold', fontSize: 64, fill: '#1a1a1a', align: 'center', verticalAlign: 'middle'}}
  ]
};

const chart = echarts.init(document.getElementById('c'), null, {renderer: 'canvas', width: 3262, height: 2540});
chart.setOption(option);
</script></body></html>
